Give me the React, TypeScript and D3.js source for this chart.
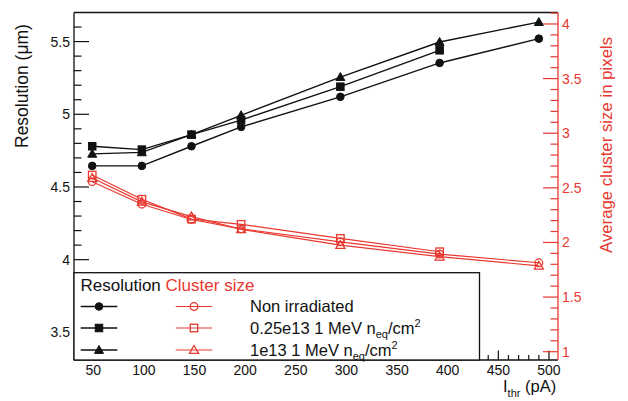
import React from "react";
import * as d3 from "d3";

const thresholds = [49, 98, 147, 196, 294, 392, 490];
const resNonIrr = [4.645, 4.645, 4.78, 4.913, 5.12, 5.353, 5.52];
const res025 = [4.78, 4.757, 4.86, 4.96, 5.19, 5.44];
const res1e13 = [4.728, 4.738, 4.86, 4.993, 5.256, 5.497, 5.634];
const clNonIrr = [2.556, 2.35, 2.21, 2.125, 2.006, 1.894, 1.814];
const cl025 = [2.617, 2.395, 2.214, 2.166, 2.037, 1.915];
const cl1e13 = [2.59, 2.372, 2.237, 2.12, 1.976, 1.87, 1.786];
const xTicks = [50, 100, 150, 200, 250, 300, 350, 400, 450, 500];
const leftTicks = [3.5, 4, 4.5, 5, 5.5];
const rightTicks = [1, 1.5, 2, 2.5, 3, 3.5, 4];
const legendLabels = ["Non irradiated", "0.25e13 1 MeV", "1e13 1 MeV"];

const RED = "#e8382f";
const FONT = "'Liberation Sans', Arial, Helvetica, sans-serif";

type Shape = "circle" | "square" | "triangle";

function Marker({ x, y, shape, filled, color }: { x: number; y: number; shape: Shape; filled: boolean; color: string }) {
  const fill = filled ? color : "white";
  const sw = filled ? 1 : 1.3;
  if (shape === "circle") return <circle cx={x} cy={y} r={filled ? 3.8 : 3.8} fill={filled ? color : "none"} stroke={color} strokeWidth={sw} />;
  if (shape === "square") { const s = filled ? 7.5 : 7.5; return <rect x={x - s / 2} y={y - s / 2} width={s} height={s} fill={filled ? color : "none"} stroke={color} strokeWidth={sw} />; }
  const h = 4.5;
  return <path d={`M${x},${y - h} L${x + h},${y + h * 0.75} L${x - h},${y + h * 0.75} Z`} fill={filled ? color : "none"} stroke={color} strokeWidth={sw} />;
}

export default function App() {
  const W = 628, H = 401;
  const L = 74, R = 558, T = 12.5, B = 360;
  const x = d3.scaleLinear().domain([31, 508.9]).range([L, R]);
  const yL = d3.scaleLinear().domain([3.31, 5.70]).range([B, T]);
  const yR = d3.scaleLinear().domain([0.924, 4.105]).range([B, T]);

  const resSeries: { vals: number[]; shape: Shape }[] = [
    { vals: resNonIrr, shape: "circle" },
    { vals: res025, shape: "square" },
    { vals: res1e13, shape: "triangle" },
  ];
  const clSeries: { vals: number[]; shape: Shape }[] = [
    { vals: clNonIrr, shape: "circle" },
    { vals: cl025, shape: "square" },
    { vals: cl1e13, shape: "triangle" },
  ];

  const lineL = d3.line<number>().x((_, i) => x(thresholds[i])).y((v) => yL(v));
  const lineR = d3.line<number>().x((_, i) => x(thresholds[i])).y((v) => yR(v));

  const leftMinor = d3.range(34, 57).map((v) => v / 10).filter((v) => !leftTicks.some((t) => Math.abs(t - v) < 1e-6));
  const rightMinor = d3.range(10, 42).map((v) => v / 10).filter((v) => !rightTicks.some((t) => Math.abs(t - v) < 1e-6));
  const xMinor = d3.range(40, 510, 10).filter((v) => v % 50 !== 0);

  const legTop = 272.7, legRight = 479.5;
  const rowY = [306.5, 328, 350];

  return (
    <div style={{ position: "absolute", left: 0, top: 0 }}>
      <svg width={W} height={H} style={{ display: "block", background: "white" }} fontFamily={FONT}>
        <rect x={0} y={0} width={W} height={H} fill="white" />
        {/* Series */}
        {clSeries.map((s, k) => (
          <g key={"c" + k}>
            <path d={lineR(s.vals) || ""} fill="none" stroke={RED} strokeWidth={1.2} />
            {s.vals.map((v, i) => <Marker key={i} x={x(thresholds[i])} y={yR(v)} shape={s.shape} filled={false} color={RED} />)}
          </g>
        ))}
        {resSeries.map((s, k) => (
          <g key={"r" + k}>
            <path d={lineL(s.vals) || ""} fill="none" stroke="#111" strokeWidth={1.4} />
            {s.vals.map((v, i) => <Marker key={i} x={x(thresholds[i])} y={yL(v)} shape={s.shape} filled={true} color="#111" />)}
          </g>
        ))}
        {/* frame */}
        <line x1={L} x2={R} y1={T} y2={T} stroke="#111" strokeWidth={1.3} />
        <line x1={L} x2={L} y1={T} y2={B} stroke="#111" strokeWidth={1.3} />
        <line x1={L} x2={R} y1={B} y2={B} stroke="#111" strokeWidth={1.3} />
        {/* left ticks */}
        {leftTicks.map((t) => (
          <g key={"lt" + t}>
            <line x1={L} x2={L + 15} y1={yL(t)} y2={yL(t)} stroke="#111" strokeWidth={1.2} />
            <text x={L - 4} y={yL(t)} dy="0.36em" textAnchor="end" fontSize={14} fill="#111">{String(t)}</text>
          </g>
        ))}
        {leftMinor.map((t) => <line key={"lm" + t} x1={L} x2={L + 7.5} y1={yL(t)} y2={yL(t)} stroke="#111" strokeWidth={1.2} />)}
        {/* x ticks */}
        {xTicks.map((t) => (
          <g key={"xt" + t}>
            <line x1={x(t)} x2={x(t)} y1={B} y2={B - 9.5} stroke="#111" strokeWidth={1.2} />
            <text x={x(t)} y={375} textAnchor="middle" fontSize={14} fill="#111">{String(t)}</text>
          </g>
        ))}
        {xMinor.map((t) => <line key={"xm" + t} x1={x(t)} x2={x(t)} y1={B} y2={B - 5} stroke="#111" strokeWidth={1.2} />)}
        {/* right axis */}
        <line x1={R} x2={R} y1={T} y2={B} stroke={RED} strokeWidth={1.3} />
        {rightTicks.map((t) => (
          <g key={"rt" + t}>
            <line x1={R - 15} x2={R} y1={yR(t)} y2={yR(t)} stroke={RED} strokeWidth={1.2} />
            <text x={R + 4} y={yR(t)} dy="0.36em" textAnchor="start" fontSize={14} fill={RED}>{String(t)}</text>
          </g>
        ))}
        {rightMinor.map((t) => <line key={"rm" + t} x1={R - 7.5} x2={R} y1={yR(t)} y2={yR(t)} stroke={RED} strokeWidth={1.2} />)}
        {/* axis titles */}
        <text transform={`translate(28,148) rotate(-90)`} textAnchor="start" fontSize={17.5} fill="#111">Resolution (μm)</text>
        <text transform={`translate(612,253) rotate(-90)`} textAnchor="start" fontSize={16.8} fill={RED}>Average cluster size in pixels</text>
        <text x={503} y={392} fontSize={16.5} fill="#111">I<tspan fontSize={11} dy={5}>thr</tspan><tspan dy={-5}> (pA)</tspan></text>
        {/* legend */}
        <rect x={L} y={legTop} width={legRight - L} height={B - legTop} fill="white" stroke="#111" strokeWidth={1.3} />
        <text x={80.5} y={291} fontSize={17} fill="#111">Resolution <tspan fill={RED}>Cluster size</tspan></text>
        {resSeries.map((s, k) => (
          <g key={"lg" + k}>
            <line x1={80.7} x2={117.3} y1={rowY[k]} y2={rowY[k]} stroke="#111" strokeWidth={1.4} />
            <Marker x={99} y={rowY[k]} shape={s.shape} filled={true} color="#111" />
            <line x1={175.7} x2={212.3} y1={rowY[k]} y2={rowY[k]} stroke={RED} strokeWidth={1.2} />
            <Marker x={194} y={rowY[k]} shape={s.shape} filled={false} color={RED} />
            <text x={250} y={rowY[k] + 5.5} fontSize={16.5} fill="#111">
              {legendLabels[k]}
              {k > 0 ? (
                <>
                  {" n"}<tspan fontSize={11} dy={4}>eq</tspan><tspan dy={-4}>/cm</tspan><tspan fontSize={11} dy={-7}>2</tspan>
                </>
              ) : null}
            </text>
          </g>
        ))}
      </svg>
    </div>
  );
}
